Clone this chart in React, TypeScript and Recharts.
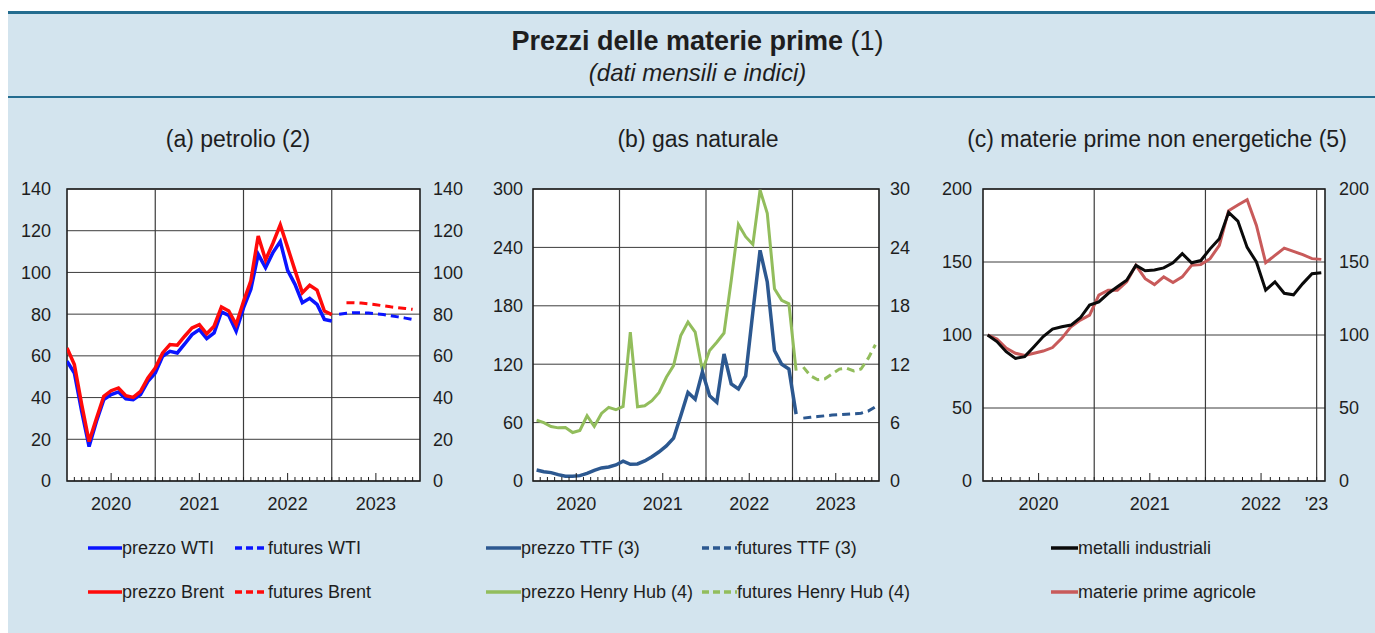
import React from 'react';
import { LineChart, Line, XAxis, YAxis, CartesianGrid, ReferenceLine, ReferenceArea } from 'recharts';

const FONT = '"Liberation Sans", Arial, Helvetica, sans-serif';
const INK = '#1e1e1e';
const BG = '#d3e4ee';
const RULE = '#236c8f';

// ---------- (a) petrolio: monthly, Jan 2020 .. Jan 2023 (month index 0..36) ----------
const wtiPrice = [57.4, 51.8, 33.4, 16.5, 28.5, 39, 41.4, 42.7, 39.4, 39, 41.4, 47.8,
  51.8, 59.8, 62.2, 61.4, 65.7, 70.2, 72.6, 68.3, 71, 81.1, 79.4, 71.8,
  83, 91.9, 108.7, 102.3, 109.5, 114.8, 101, 94.3, 85.5, 87.6, 84.7, 77.5, 76.7];
const brentPrice = [63.8, 55.8, 36.6, 18.9, 30, 40.6, 43.3, 44.6, 40.9, 40.1, 43, 49.4,
  54.2, 61.4, 65.4, 65.1, 69.4, 73.4, 75, 70.6, 74.2, 83.4, 81.5, 75,
  86, 96, 117.5, 106, 114, 122.8, 112, 101, 90.3, 93.8, 91.5, 81.5, 79.8];
// futures: Feb 2023 .. Dec 2023 (WTI), Mar 2023 .. Dec 2023 (Brent)
const wtiFutures = [79.9, 80.4, 80.7, 80.7, 80.5, 80.2, 79.8, 79.3, 78.7, 78.1, 77.4];
const brentFutures = [85.5, 85.5, 85.3, 84.9, 84.5, 84.0, 83.5, 83.1, 82.7, 82.3];
const WTI_FUT_START = 37;
const BRENT_FUT_START = 38;

// ---------- (b) gas naturale ----------
const ttfPrice = [11.3, 9.6, 8.6, 6.5, 4.8, 4.8, 5.5, 7.9, 11, 13.4, 14.4, 16.5,
  20.3, 17.2, 17.5, 20.6, 25, 30, 36, 44, 67, 91, 84, 112,
  87.6, 80.8, 130.6, 99.7, 94.5, 108, 173.5, 237, 204.5, 134, 120, 115, 68.7];
const ttfFutures = [64.6, 65.4, 66.2, 67, 67.7, 68.2, 68.7, 69.1, 69.6, 71.8, 76.2];
const hhPrice = [6.25, 6.0, 5.6, 5.46, 5.5, 4.98, 5.2, 6.7, 5.6, 6.94, 7.56, 7.32,
  7.66, 15.3, 7.63, 7.73, 8.25, 9.1, 10.65, 11.86, 14.95, 16.32, 15.3, 11.34,
  13.4, 14.26, 15.2, 20.6, 26.36, 25.1, 24.3, 29.9, 27.5, 19.76, 18.56, 18.2, 11.34];
const hhFutures = [11.7, 10.8, 10.4, 10.5, 11.0, 11.5, 11.6, 11.3, 11.5, 12.6, 14.0];
const GAS_FUT_START = 37;

// ---------- (c) materie prime non energetiche (indici) ----------
const metalli = [100, 95.5, 88.6, 84, 85.2, 92, 98.9, 104, 105.7, 106.8, 111.8, 120.5,
  122.7, 128.4, 133, 137.5, 147.7, 144, 144.5, 146, 149.5, 155.7, 149.5, 151,
  159, 166, 184, 178, 160, 150, 130.7, 136.4, 128.6, 127.5, 135.2, 142, 142.7];
const agricole = [100, 97.3, 91, 87.5, 86, 87.5, 89, 91.4, 97.7, 105.7, 110.2, 113.6,
  127.3, 130.7, 130.7, 136.4, 147.7, 138.6, 134.5, 139.8, 135.9, 139.8, 147.7, 148.2,
  152.3, 161.4, 185.2, 189, 192.7, 175, 149.5, 154.5, 159.5, 157.3, 155, 152.3, 151.8];

// axis ticks / labels
const oilTicks = [0, 20, 40, 60, 80, 100, 120, 140];
const gasTicksLeft = [0, 60, 120, 180, 240, 300];
const gasTicksRight = [0, 6, 12, 18, 24, 30];
const nonEnTicks = [0, 50, 100, 150, 200];
const yearLabels4: Record<number, string> = { 6: '2020', 18: '2021', 30: '2022', 42: '2023' };
const yearLabels3: Record<number, string> = { 6: '2020', 18: '2021', 30: '2022', 36: "'23" };
const yearBounds4 = [12, 24, 36];
const yearBounds3 = [12, 24, 36];
const majors = [6, 18, 30, 42];

const range = (a: number, b: number) => Array.from({ length: b - a + 1 }, (_, i) => a + i);

const at = (arr: number[], i: number, start = 0) =>
  i - start >= 0 && i - start < arr.length ? arr[i - start] : null;

const oilRows = range(0, 47).map((m) => ({
  t: m,
  wti: at(wtiPrice, m),
  brent: at(brentPrice, m),
  wtiF: at(wtiFutures, m, WTI_FUT_START),
  brentF: at(brentFutures, m, BRENT_FUT_START),
}));
const gasRows = range(0, 47).map((m) => ({
  t: m + 0.5,
  ttf: at(ttfPrice, m),
  ttfF: at(ttfFutures, m, GAS_FUT_START),
  hh: at(hhPrice, m),
  hhF: at(hhFutures, m, GAS_FUT_START),
}));
const nonEnRows = range(0, 36).map((m) => ({
  t: m + 0.5,
  met: at(metalli, m),
  agr: at(agricole, m),
}));

function makeTick(labels: Record<number, string>) {
  return (props: any) => {
    const { x, y, payload } = props;
    const v = payload.value;
    const isMajor = majors.includes(v);
    const label = labels[v];
    return (
      <g>
        <line x1={x} x2={x} y1={y} y2={y - (isMajor ? 8 : 4)} stroke={INK} strokeWidth={1} />
        {label ? (
          <text x={x} y={y + 29} textAnchor="middle" fontSize={18} fill={INK} fontFamily={FONT}>
            {label}
          </text>
        ) : null}
      </g>
    );
  };
}

type S = { key: string; color: string; width: number; dashed?: boolean; right?: boolean };

type PanelProps = {
  left: number;
  width: number;
  yLW: number;
  yRW: number;
  lGap: number;
  rGap: number;
  data: any[];
  xMax: number;
  tickVals: number[];
  labels: Record<number, string>;
  bounds: number[];
  lDomain: [number, number];
  lTicks: number[];
  rDomain: [number, number];
  rTicks: number[];
  series: S[];
};

function Panel(p: PanelProps) {
  const tickStyle = { fontSize: 18, fill: INK, fontFamily: FONT };
  return (
    <div style={{ position: 'absolute', left: p.left, top: 150 }}>
      <LineChart width={p.width} height={371} data={p.data} margin={{ top: 39, right: 0, left: 0, bottom: 0 }}>
        <CartesianGrid vertical={false} stroke="#3c3c3c" strokeWidth={1} fill="#ffffff" />
        <XAxis
          dataKey="t"
          type="number"
          domain={[0, p.xMax]}
          ticks={p.tickVals}
          interval={0}
          tickLine={false}
          tickSize={0}
          tickMargin={0}
          axisLine={false}
          height={40}
          tick={makeTick(p.labels)}
          allowDataOverflow
        />
        <YAxis
          domain={p.lDomain}
          ticks={p.lTicks}
          interval={0}
          width={p.yLW}
          tickLine={false}
          tickSize={0}
          tickMargin={p.lGap}
          axisLine={false}
          tick={tickStyle}
          allowDataOverflow
        />
        <YAxis
          yAxisId="right"
          orientation="right"
          domain={p.rDomain}
          ticks={p.rTicks}
          interval={0}
          width={p.yRW}
          tickLine={false}
          tickSize={0}
          tickMargin={p.rGap}
          axisLine={false}
          tick={{ ...tickStyle, textAnchor: 'start' }}
          allowDataOverflow
        />
        {p.bounds.map((b) => (
          <ReferenceLine key={b} x={b} stroke="#3c3c3c" strokeWidth={1.2} />
        ))}
        {p.series.map((s) => (
          <Line
            key={s.key}
            dataKey={s.key}
            yAxisId={s.right ? 'right' : 0}
            type="linear"
            stroke={s.color}
            strokeWidth={s.width}
            strokeDasharray={s.dashed ? '8 5' : undefined}
            dot={false}
            activeDot={false}
            isAnimationActive={false}
            connectNulls={false}
          />
        ))}
        <ReferenceArea
          x1={0}
          x2={p.xMax}
          y1={p.lDomain[0]}
          y2={p.lDomain[1]}
          fill="none"
          stroke={INK}
          strokeWidth={1.6}
          ifOverflow="visible"
        />
      </LineChart>
    </div>
  );
}

function LegendItem({ x, y, color, dashed, text, sw, width }: any) {
  return (
    <div style={{ position: 'absolute', left: x, top: y - 12, height: 24, display: 'flex', alignItems: 'center', whiteSpace: 'nowrap' }}>
      <svg width={width} height={10} style={{ display: 'block' }}>
        <line x1={0} x2={width} y1={5} y2={5} stroke={color} strokeWidth={sw} strokeDasharray={dashed ? '7 4' : undefined} />
      </svg>
      <span style={{ fontSize: 18, color: INK, lineHeight: '24px' }}>{text}</span>
    </div>
  );
}

const C = {
  wti: '#0a14ff',
  brent: '#ff0a0a',
  ttf: '#2c5890',
  hh: '#92bd5c',
  met: '#0a0a0a',
  agr: '#c85a5a',
};

export default function App() {
  return (
    <div style={{ position: 'absolute', left: 0, top: 0, width: 1375, height: 633, background: '#ffffff', fontFamily: FONT, color: INK, overflow: 'hidden' }}>
      <div style={{ position: 'absolute', left: 8, top: 11, width: 1367, height: 622, background: BG }} />
      <div style={{ position: 'absolute', left: 8, top: 11, width: 1367, height: 3, background: RULE }} />
      <div style={{ position: 'absolute', left: 8, top: 96, width: 1367, height: 2, background: RULE }} />
      <div style={{ position: 'absolute', left: 0, top: 24, width: 1395, textAlign: 'center', fontSize: 27, lineHeight: '34px' }}>
        <span style={{ fontWeight: 'bold' }}>Prezzi delle materie prime</span> (1)
      </div>
      <div style={{ position: 'absolute', left: 0, top: 58, width: 1395, textAlign: 'center', fontSize: 24, fontStyle: 'italic', lineHeight: '30px' }}>
        (dati mensili e indici)
      </div>

      <div style={{ position: 'absolute', left: 38, width: 400, top: 125, textAlign: 'center', fontSize: 23, lineHeight: '28px' }}>(a) petrolio (2)</div>
      <div style={{ position: 'absolute', left: 498, width: 400, top: 125, textAlign: 'center', fontSize: 23, lineHeight: '28px' }}>(b) gas naturale</div>
      <div style={{ position: 'absolute', left: 957, width: 400, top: 125, textAlign: 'center', fontSize: 23, lineHeight: '28px' }}>(c) materie prime non energetiche (5)</div>

      <Panel
        left={0}
        width={470}
        yLW={67}
        yRW={50}
        lGap={16}
        rGap={13}
        data={oilRows}
        xMax={48}
        tickVals={range(1, 47)}
        labels={yearLabels4}
        bounds={yearBounds4}
        lDomain={[0, 140]}
        lTicks={oilTicks}
        rDomain={[0, 140]}
        rTicks={oilTicks}
        series={[
          { key: 'wti', color: C.wti, width: 3.5 },
          { key: 'brent', color: C.brent, width: 3.5 },
          { key: 'wtiF', color: C.wti, width: 3, dashed: true },
          { key: 'brentF', color: C.brent, width: 3, dashed: true },
        ]}
      />
      <Panel
        left={470}
        width={470}
        yLW={63}
        yRW={61}
        lGap={10}
        rGap={11}
        data={gasRows}
        xMax={48}
        tickVals={range(1, 47)}
        labels={yearLabels4}
        bounds={yearBounds4}
        lDomain={[0, 300]}
        lTicks={gasTicksLeft}
        rDomain={[0, 30]}
        rTicks={gasTicksRight}
        series={[
          { key: 'hh', color: C.hh, width: 3, right: true },
          { key: 'hhF', color: C.hh, width: 3, dashed: true, right: true },
          { key: 'ttf', color: C.ttf, width: 3.5 },
          { key: 'ttfF', color: C.ttf, width: 3, dashed: true },
        ]}
      />
      <Panel
        left={940}
        width={435}
        yLW={43}
        yRW={50}
        lGap={11}
        rGap={14}
        data={nonEnRows}
        xMax={36.9}
        tickVals={range(1, 36)}
        labels={yearLabels3}
        bounds={yearBounds3}
        lDomain={[0, 200]}
        lTicks={nonEnTicks}
        rDomain={[0, 200]}
        rTicks={nonEnTicks}
        series={[
          { key: 'agr', color: C.agr, width: 3 },
          { key: 'met', color: C.met, width: 3 },
        ]}
      />

      <LegendItem x={88} y={548} width={34} sw={3.5} color={C.wti} text="prezzo WTI" />
      <LegendItem x={235} y={548} width={33} sw={3.5} color={C.wti} dashed text="futures WTI" />
      <LegendItem x={88} y={592} width={34} sw={3.5} color={C.brent} text="prezzo Brent" />
      <LegendItem x={235} y={592} width={33} sw={3.5} color={C.brent} dashed text="futures Brent" />

      <LegendItem x={486} y={548} width={35} sw={3.5} color={C.ttf} text="prezzo TTF (3)" />
      <LegendItem x={702} y={548} width={35} sw={3.5} color={C.ttf} dashed text="futures TTF (3)" />
      <LegendItem x={486} y={592} width={35} sw={3.5} color={C.hh} text="prezzo Henry Hub (4)" />
      <LegendItem x={702} y={592} width={35} sw={3.5} color={C.hh} dashed text="futures Henry Hub (4)" />

      <LegendItem x={1051} y={548} width={27} sw={3.5} color={C.met} text="metalli industriali" />
      <LegendItem x={1051} y={592} width={27} sw={3.5} color={C.agr} text="materie prime agricole" />
    </div>
  );
}
